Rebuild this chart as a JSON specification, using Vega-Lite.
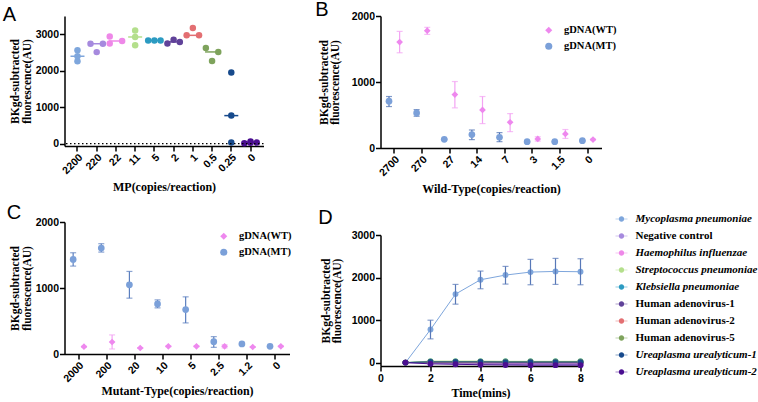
{
"$schema":"https://vega.github.io/schema/vega-lite/v6.json",
"background":"white",
"padding":{"left":2.5,"top":0,"right":0,"bottom":0},
"config":{
 "view":{"stroke":null},
 "axis":{"domainColor":"black","domainWidth":1.5,"tickColor":"black","tickWidth":1.5,"tickSize":5,"grid":false,"labelFont":"Liberation Sans","labelFontWeight":"bold","labelFontSize":10.5,"labelColor":"black","labelPadding":1,"labelFlush":false,"labelOverlap":false,"titleFont":"Liberation Serif","titleFontWeight":"bold","titleFontSize":12,"titleColor":"black"},
 "axisY":{"titleFontSize":11.5,"titleLineHeight":11.5,"titlePadding":3,"format":"d"},
 "axisX":{"titlePadding":4},
 "legend":{"labelFont":"Liberation Serif","labelFontWeight":"bold","labelFontSize":10.5,"labelColor":"black"},
 "title":{"font":"Liberation Sans","fontSize":20,"fontWeight":"normal","anchor":"start","frame":"bounds","color":"black"}
},
"datasets":{
 "A":[
  {"mp":"2200","rep":"C","v":2560},{"mp":"2200","rep":"C","v":2400},{"mp":"2200","rep":"C","v":2260},
  {"mp":"220","rep":"L","v":2740},{"mp":"220","rep":"C","v":2510},{"mp":"220","rep":"R","v":2740},
  {"mp":"22","rep":"L","v":2940},{"mp":"22","rep":"L","v":2745},{"mp":"22","rep":"R","v":2815},
  {"mp":"11","rep":"C","v":3105},{"mp":"11","rep":"C","v":2925},{"mp":"11","rep":"C","v":2700},
  {"mp":"5","rep":"L","v":2830},{"mp":"5","rep":"C","v":2830},{"mp":"5","rep":"R","v":2830},
  {"mp":"2","rep":"L","v":2745},{"mp":"2","rep":"C","v":2850},{"mp":"2","rep":"R","v":2790},
  {"mp":"1","rep":"L","v":2970},{"mp":"1","rep":"C","v":3170},{"mp":"1","rep":"R","v":2970},
  {"mp":"0.5","rep":"L","v":2625},{"mp":"0.5","rep":"C","v":2265},{"mp":"0.5","rep":"R","v":2515},
  {"mp":"0.25","rep":"C","v":1950},{"mp":"0.25","rep":"C","v":770},{"mp":"0.25","rep":"C","v":30},
  {"mp":"0","rep":"L","v":10},{"mp":"0","rep":"C","v":60},{"mp":"0","rep":"C","v":25},{"mp":"0","rep":"R","v":30}
 ],
 "B":[
  {"cat":"2700","series":"gDNA(MT)","mean":710,"lo":628,"hi":780},
  {"cat":"270","series":"gDNA(MT)","mean":532,"lo":481,"hi":582},
  {"cat":"27","series":"gDNA(MT)","mean":132,"lo":125,"hi":140},
  {"cat":"14","series":"gDNA(MT)","mean":203,"lo":127,"hi":273},
  {"cat":"7","series":"gDNA(MT)","mean":162,"lo":96,"hi":233},
  {"cat":"3","series":"gDNA(MT)","mean":96,"lo":90,"hi":102},
  {"cat":"1.5","series":"gDNA(MT)","mean":96,"lo":90,"hi":102},
  {"cat":"0","series":"gDNA(MT)","mean":111,"lo":104,"hi":118},
  {"cat":"2700","series":"gDNA(WT)","mean":1605,"lo":1443,"hi":1767},
  {"cat":"270","series":"gDNA(WT)","mean":1777,"lo":1721,"hi":1828},
  {"cat":"27","series":"gDNA(WT)","mean":810,"lo":608,"hi":1007},
  {"cat":"14","series":"gDNA(WT)","mean":577,"lo":370,"hi":780},
  {"cat":"7","series":"gDNA(WT)","mean":390,"lo":248,"hi":521},
  {"cat":"3","series":"gDNA(WT)","mean":137,"lo":105,"hi":170},
  {"cat":"1.5","series":"gDNA(WT)","mean":213,"lo":145,"hi":280},
  {"cat":"0","series":"gDNA(WT)","mean":127,"lo":120,"hi":134}
 ],
 "C":[
  {"cat":"2000","series":"gDNA(MT)","mean":1433,"lo":1332,"hi":1534},
  {"cat":"200","series":"gDNA(MT)","mean":1605,"lo":1544,"hi":1671},
  {"cat":"20","series":"gDNA(MT)","mean":1048,"lo":846,"hi":1251},
  {"cat":"10","series":"gDNA(MT)","mean":759,"lo":699,"hi":820},
  {"cat":"5","series":"gDNA(MT)","mean":673,"lo":471,"hi":866},
  {"cat":"2.5","series":"gDNA(MT)","mean":187,"lo":101,"hi":263},
  {"cat":"1.2","series":"gDNA(MT)","mean":152,"lo":145,"hi":159},
  {"cat":"0","series":"gDNA(MT)","mean":116,"lo":110,"hi":122},
  {"cat":"2000","series":"gDNA(WT)","mean":111,"lo":105,"hi":117},
  {"cat":"200","series":"gDNA(WT)","mean":182,"lo":76,"hi":289},
  {"cat":"20","series":"gDNA(WT)","mean":91,"lo":85,"hi":97},
  {"cat":"10","series":"gDNA(WT)","mean":116,"lo":110,"hi":122},
  {"cat":"5","series":"gDNA(WT)","mean":116,"lo":110,"hi":122},
  {"cat":"2.5","series":"gDNA(WT)","mean":116,"lo":92,"hi":140},
  {"cat":"1.2","series":"gDNA(WT)","mean":106,"lo":100,"hi":112},
  {"cat":"0","series":"gDNA(WT)","mean":116,"lo":110,"hi":122}
 ],
 "D":[
  {"s":"Mycoplasma pneumoniae","t":1,"v":0},
  {"s":"Mycoplasma pneumoniae","t":2,"v":777,"lo":558,"hi":997},
  {"s":"Mycoplasma pneumoniae","t":3,"v":1610,"lo":1374,"hi":1838},
  {"s":"Mycoplasma pneumoniae","t":4,"v":1948,"lo":1736,"hi":2152},
  {"s":"Mycoplasma pneumoniae","t":5,"v":2058,"lo":1846,"hi":2262},
  {"s":"Mycoplasma pneumoniae","t":6,"v":2128,"lo":1830,"hi":2427},
  {"s":"Mycoplasma pneumoniae","t":7,"v":2144,"lo":1838,"hi":2450},
  {"s":"Mycoplasma pneumoniae","t":8,"v":2136,"lo":1830,"hi":2442},
  {"s":"Negative control","t":1,"v":0},{"s":"Negative control","t":2,"v":-15},{"s":"Negative control","t":3,"v":-25},{"s":"Negative control","t":4,"v":-35},{"s":"Negative control","t":5,"v":-40},{"s":"Negative control","t":6,"v":-50},{"s":"Negative control","t":7,"v":-45},{"s":"Negative control","t":8,"v":-45},
  {"s":"Haemophilus influenzae","t":1,"v":0},{"s":"Haemophilus influenzae","t":2,"v":5},{"s":"Haemophilus influenzae","t":3,"v":-5},{"s":"Haemophilus influenzae","t":4,"v":-10},{"s":"Haemophilus influenzae","t":5,"v":-15},{"s":"Haemophilus influenzae","t":6,"v":-20},{"s":"Haemophilus influenzae","t":7,"v":-15},{"s":"Haemophilus influenzae","t":8,"v":-15},
  {"s":"Streptococcus pneumoniae","t":1,"v":0},{"s":"Streptococcus pneumoniae","t":2,"v":35},{"s":"Streptococcus pneumoniae","t":3,"v":35},{"s":"Streptococcus pneumoniae","t":4,"v":35},{"s":"Streptococcus pneumoniae","t":5,"v":30},{"s":"Streptococcus pneumoniae","t":6,"v":30},{"s":"Streptococcus pneumoniae","t":7,"v":30},{"s":"Streptococcus pneumoniae","t":8,"v":30},
  {"s":"Klebsiella pneumoniae","t":1,"v":0},{"s":"Klebsiella pneumoniae","t":2,"v":25},{"s":"Klebsiella pneumoniae","t":3,"v":25},{"s":"Klebsiella pneumoniae","t":4,"v":25},{"s":"Klebsiella pneumoniae","t":5,"v":25},{"s":"Klebsiella pneumoniae","t":6,"v":25},{"s":"Klebsiella pneumoniae","t":7,"v":25},{"s":"Klebsiella pneumoniae","t":8,"v":25},
  {"s":"Human adenovirus-1","t":1,"v":0},{"s":"Human adenovirus-1","t":2,"v":0},{"s":"Human adenovirus-1","t":3,"v":-5},{"s":"Human adenovirus-1","t":4,"v":-10},{"s":"Human adenovirus-1","t":5,"v":-10},{"s":"Human adenovirus-1","t":6,"v":-10},{"s":"Human adenovirus-1","t":7,"v":-10},{"s":"Human adenovirus-1","t":8,"v":-10},
  {"s":"Human adenovirus-2","t":1,"v":0},{"s":"Human adenovirus-2","t":2,"v":10},{"s":"Human adenovirus-2","t":3,"v":10},{"s":"Human adenovirus-2","t":4,"v":10},{"s":"Human adenovirus-2","t":5,"v":5},{"s":"Human adenovirus-2","t":6,"v":5},{"s":"Human adenovirus-2","t":7,"v":5},{"s":"Human adenovirus-2","t":8,"v":5},
  {"s":"Human adenovirus-5","t":1,"v":0},{"s":"Human adenovirus-5","t":2,"v":20},{"s":"Human adenovirus-5","t":3,"v":20},{"s":"Human adenovirus-5","t":4,"v":20},{"s":"Human adenovirus-5","t":5,"v":20},{"s":"Human adenovirus-5","t":6,"v":20},{"s":"Human adenovirus-5","t":7,"v":20},{"s":"Human adenovirus-5","t":8,"v":20},
  {"s":"Ureaplasma urealyticum-1","t":1,"v":0},{"s":"Ureaplasma urealyticum-1","t":2,"v":15},{"s":"Ureaplasma urealyticum-1","t":3,"v":15},{"s":"Ureaplasma urealyticum-1","t":4,"v":15},{"s":"Ureaplasma urealyticum-1","t":5,"v":10},{"s":"Ureaplasma urealyticum-1","t":6,"v":10},{"s":"Ureaplasma urealyticum-1","t":7,"v":10},{"s":"Ureaplasma urealyticum-1","t":8,"v":10},
  {"s":"Ureaplasma urealyticum-2","t":1,"v":0},{"s":"Ureaplasma urealyticum-2","t":2,"v":-30},{"s":"Ureaplasma urealyticum-2","t":3,"v":-40},{"s":"Ureaplasma urealyticum-2","t":4,"v":-50},{"s":"Ureaplasma urealyticum-2","t":5,"v":-55},{"s":"Ureaplasma urealyticum-2","t":6,"v":-60},{"s":"Ureaplasma urealyticum-2","t":7,"v":-60},{"s":"Ureaplasma urealyticum-2","t":8,"v":-60}
 ]
},
"spacing":23,
"resolve":{"scale":{"color":"independent","shape":"independent","xOffset":"independent"},"legend":{"color":"independent","shape":"independent"}},
"hconcat":[
 {"spacing":9,
  "resolve":{"scale":{"color":"independent","shape":"independent","xOffset":"independent"},"legend":{"color":"independent","shape":"independent"}},
  "vconcat":[
  {"width":199,"height":130,
   "title":{"text":"A","dx":-7,"offset":-9},
   "data":{"name":"A"},
   "layer":[
    {"mark":{"type":"point","filled":true,"size":42,"opacity":1},
     "encoding":{
      "x":{"field":"mp","type":"nominal","scale":{"type":"band","domain":["2200","220","22","11","5","2","1","0.5","0.25","0"],"paddingInner":0,"paddingOuter":0.175},"axis":{"title":"MP(copies/reaction)","labelAngle":-45,"bandPosition":0.5,"titlePadding":5.4}},
      "xOffset":{"field":"rep","type":"nominal","scale":{"domain":["L","C","R"],"paddingInner":0,"paddingOuter":0.55}},
      "y":{"field":"v","type":"quantitative","scale":{"domain":[-63,3500],"nice":false,"zero":false},"axis":{"title":["BKgd-subtracted","fluorescence(AU)"],"values":[0,500,1000,1500,2000,2500,3000,3500]}},
      "color":{"field":"mp","type":"nominal","scale":{"domain":["2200","220","22","11","5","2","1","0.5","0.25","0"],"range":["#7ea6dc","#a68ade","#ee88e8","#b4df8c","#2c9bc2","#604299","#e36f72","#7ea35c","#174a8c","#4a0e90"]},"legend":null}}},
    {"mark":{"type":"tick","thickness":1.5,"size":14},
     "encoding":{
      "x":{"field":"mp","type":"nominal"},
      "y":{"aggregate":"median","field":"v","type":"quantitative"},
      "color":{"field":"mp","type":"nominal","legend":null}}},
    {"data":{"values":[{"zero":0}]},"mark":{"type":"rule","strokeDash":[1.5,2.5],"color":"black","strokeWidth":1.2},"encoding":{"y":{"field":"zero","type":"quantitative"}}}
   ]},
  {"width":225,"height":132,
   "title":{"text":"C","dx":-3,"offset":-5.5},
   "data":{"name":"C"},
   "encoding":{
    "x":{"field":"cat","type":"nominal","scale":{"type":"band","domain":["2000","200","20","10","5","2.5","1.2","0"],"paddingInner":0,"paddingOuter":0},"axis":{"title":"Mutant-Type(copies/reaction)","labelAngle":-45,"bandPosition":0.5,"titlePadding":1.4}},
    "xOffset":{"field":"series","type":"nominal","scale":{"domain":["gDNA(MT)","gDNA(WT)"],"paddingInner":0,"paddingOuter":0.3}}
   },
   "layer":[
    {"mark":{"type":"rule","strokeWidth":1.2},"encoding":{"y":{"field":"lo","type":"quantitative","scale":{"domain":[0,2000],"nice":false},"axis":{"title":["BKgd-subtracted","fluorescence(AU)"],"values":[0,500,1000,1500,2000]}},"y2":{"field":"hi"},"color":{"condition":{"test":"datum.series === 'gDNA(MT)'","value":"#5b7fbf"},"value":"#f3a3f3"}}},
    {"mark":{"type":"tick","thickness":1.2,"size":6},"encoding":{"y":{"field":"lo","type":"quantitative"},"color":{"condition":{"test":"datum.series === 'gDNA(MT)'","value":"#5b7fbf"},"value":"#f3a3f3"}}},
    {"mark":{"type":"tick","thickness":1.2,"size":6},"encoding":{"y":{"field":"hi","type":"quantitative"},"color":{"condition":{"test":"datum.series === 'gDNA(MT)'","value":"#5b7fbf"},"value":"#f3a3f3"}}},
    {"mark":{"type":"point","filled":true,"size":45,"opacity":1},"encoding":{
      "y":{"field":"mean","type":"quantitative"},
      "color":{"field":"series","type":"nominal","scale":{"domain":["gDNA(WT)","gDNA(MT)"],"range":["#ee88ee","#7ba0d9"]},"legend":{"orient":"none","legendX":154,"legendY":9,"title":null,"symbolSize":50,"symbolStrokeWidth":0,"labelOffset":10,"rowPadding":5}},
      "shape":{"field":"series","type":"nominal","scale":{"domain":["gDNA(WT)","gDNA(MT)"],"range":["diamond","circle"]},"legend":{"orient":"none","legendX":154,"legendY":9,"title":null,"symbolSize":50,"symbolStrokeWidth":0,"labelOffset":10,"rowPadding":5}}}}
   ]}
 ]},
 {"spacing":10,
  "resolve":{"scale":{"color":"independent","shape":"independent","xOffset":"independent"},"legend":{"color":"independent","shape":"independent"}},
  "vconcat":[
  {"width":221,"height":132,
   "title":{"text":"B","dx":-3,"offset":-9},
   "data":{"name":"B"},
   "encoding":{
    "x":{"field":"cat","type":"nominal","scale":{"type":"band","domain":["2700","270","27","14","7","3","1.5","0"],"paddingInner":0,"paddingOuter":0},"axis":{"title":"Wild-Type(copies/reaction)","labelAngle":-45,"bandPosition":0.5,"titlePadding":5.4}},
    "xOffset":{"field":"series","type":"nominal","scale":{"domain":["gDNA(MT)","gDNA(WT)"],"paddingInner":0,"paddingOuter":0.3}}
   },
   "layer":[
    {"mark":{"type":"rule","strokeWidth":1.2},"encoding":{"y":{"field":"lo","type":"quantitative","scale":{"domain":[0,2000],"nice":false},"axis":{"title":["BKgd-subtracted","fluorescence(AU)"],"values":[0,500,1000,1500,2000],"titlePadding":10.5}},"y2":{"field":"hi"},"color":{"condition":{"test":"datum.series === 'gDNA(MT)'","value":"#4d71b3"},"value":"#f3a3f3"}}},
    {"mark":{"type":"tick","thickness":1.2,"size":6},"encoding":{"y":{"field":"lo","type":"quantitative"},"color":{"condition":{"test":"datum.series === 'gDNA(MT)'","value":"#4d71b3"},"value":"#f3a3f3"}}},
    {"mark":{"type":"tick","thickness":1.2,"size":6},"encoding":{"y":{"field":"hi","type":"quantitative"},"color":{"condition":{"test":"datum.series === 'gDNA(MT)'","value":"#4d71b3"},"value":"#f3a3f3"}}},
    {"mark":{"type":"point","filled":true,"size":45,"opacity":1},"encoding":{
      "y":{"field":"mean","type":"quantitative"},
      "color":{"field":"series","type":"nominal","scale":{"domain":["gDNA(WT)","gDNA(MT)"],"range":["#ee88ee","#7ba0d9"]},"legend":{"orient":"none","legendX":163,"legendY":9,"title":null,"symbolSize":50,"symbolStrokeWidth":0,"labelOffset":10,"rowPadding":5}},
      "shape":{"field":"series","type":"nominal","scale":{"domain":["gDNA(WT)","gDNA(MT)"],"range":["diamond","circle"]},"legend":{"orient":"none","legendX":163,"legendY":9,"title":null,"symbolSize":50,"symbolStrokeWidth":0,"labelOffset":10,"rowPadding":5}}}}
   ]},
  {"width":200,"height":131,
   "title":{"text":"D","dx":-2,"offset":-23},
   "data":{"name":"D"},
   "layer":[
    {"mark":{"type":"line","strokeWidth":1},"encoding":{
      "x":{"field":"t","type":"quantitative","scale":{"domain":[0,8],"nice":false,"zero":false},"axis":{"title":"Time(mins)","values":[0,1,2,3,4,5,6,7,8],"labelPadding":2,"titlePadding":4}},
      "y":{"field":"v","type":"quantitative","scale":{"domain":[-80,3000],"nice":false,"zero":false},"axis":{"title":["BKgd-subtracted","fluorescence(AU)"],"values":[0,500,1000,1500,2000,2500,3000],"titlePadding":8.5}},
      "color":{"field":"s","type":"nominal","scale":{"domain":["Mycoplasma pneumoniae","Negative control","Haemophilus influenzae","Streptococcus pneumoniae","Klebsiella pneumoniae","Human adenovirus-1","Human adenovirus-2","Human adenovirus-5","Ureaplasma urealyticum-1","Ureaplasma urealyticum-2"],"range":["#7ea6dc","#a68ade","#ee88e8","#b4df8c","#2c9bc2","#604299","#e36f72","#7ea35c","#174a8c","#4a0e90"]},"legend":{"orient":"none","legendX":227,"legendY":-30,"padding":8,"title":null,"symbolType":"M-1,-0.06H1V0.06H-1Z M-0.45,0A0.45,0.45,0,1,1,0.45,0A0.45,0.45,0,1,1,-0.45,0Z","symbolSize":144,"symbolStrokeWidth":0,"labelOffset":8,"rowPadding":6,"labelLimit":300,"labelFontSize":11,"labelFontStyle":{"expr":"indexof(['Negative control','Human adenovirus-1','Human adenovirus-2','Human adenovirus-5'], datum.label) >= 0 ? 'normal' : 'italic'"}}}}},
    {"mark":{"type":"point","filled":true,"size":35,"opacity":1},"encoding":{
      "x":{"field":"t","type":"quantitative"},
      "y":{"field":"v","type":"quantitative"},
      "color":{"field":"s","type":"nominal","legend":{"orient":"none","legendX":227,"legendY":-30,"padding":8,"title":null,"symbolType":"M-1,-0.06H1V0.06H-1Z M-0.45,0A0.45,0.45,0,1,1,0.45,0A0.45,0.45,0,1,1,-0.45,0Z","symbolSize":144,"symbolStrokeWidth":0,"labelOffset":8,"rowPadding":6,"labelLimit":300,"labelFontSize":11,"labelFontStyle":{"expr":"indexof(['Negative control','Human adenovirus-1','Human adenovirus-2','Human adenovirus-5'], datum.label) >= 0 ? 'normal' : 'italic'"}}}}},
    {"transform":[{"filter":"isValid(datum.lo)"}],"mark":{"type":"rule","strokeWidth":1.2,"color":"#5878b8"},"encoding":{
      "x":{"field":"t","type":"quantitative"},"y":{"field":"lo","type":"quantitative"},"y2":{"field":"hi"}}},
    {"transform":[{"filter":"isValid(datum.lo)"}],"mark":{"type":"tick","orient":"horizontal","thickness":1.2,"size":6,"color":"#5878b8"},"encoding":{
      "x":{"field":"t","type":"quantitative"},"y":{"field":"lo","type":"quantitative"}}},
    {"transform":[{"filter":"isValid(datum.lo)"}],"mark":{"type":"tick","orient":"horizontal","thickness":1.2,"size":6,"color":"#5878b8"},"encoding":{
      "x":{"field":"t","type":"quantitative"},"y":{"field":"hi","type":"quantitative"}}}
   ]}
 ]}
]
}
